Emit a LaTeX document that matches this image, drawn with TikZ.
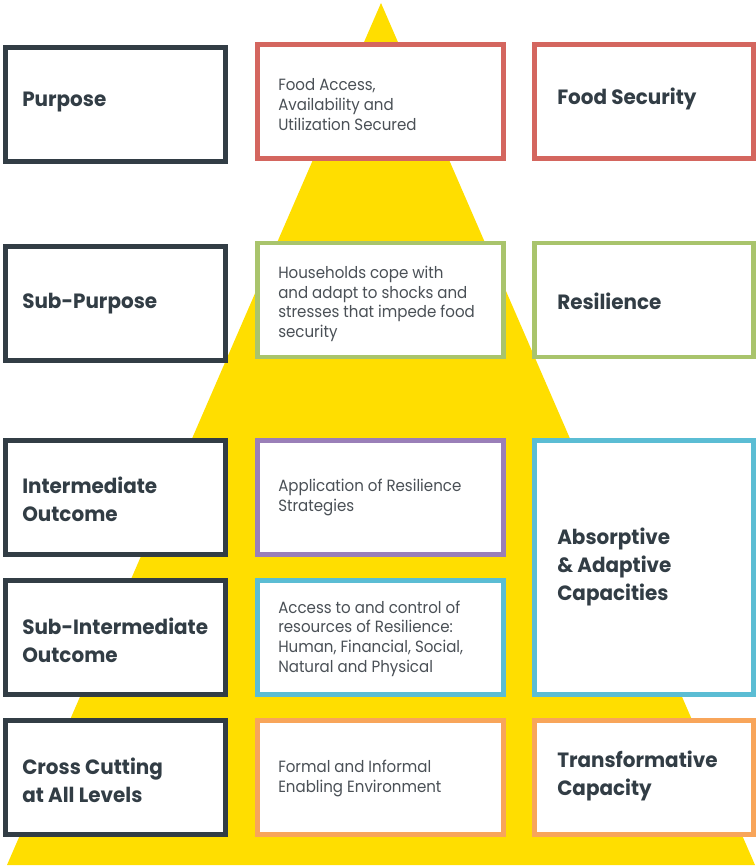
\documentclass[tikz,border=0pt]{standalone}
\usepackage{fontspec}
\newfontfamily\titlefont[FakeStretch=0.965]{Poppins}[BoldFont={* Bold}]
\newfontfamily\bodyfont[FakeStretch=0.925]{Poppins}
\definecolor{pyellow}{HTML}{FFDE00}
\definecolor{dark}{HTML}{323D45}
\definecolor{bodytext}{HTML}{4A5056}
\definecolor{cred}{HTML}{D4665F}
\definecolor{cgreen}{HTML}{A9C46C}
\definecolor{cpurple}{HTML}{9A7FB8}
\definecolor{cblue}{HTML}{5BBDD4}
\definecolor{corange}{HTML}{F8A55A}
\tikzset{
  box/.style={draw=#1, line width=3.4pt, fill=white, inner sep=0pt, outer sep=0pt},
  leftbox/.style={box=dark, minimum width=165.3pt, minimum height=85.8pt},
  midbox/.style={box=#1, minimum width=184.8pt, minimum height=85.8pt},
  rightbox/.style={box=#1, minimum width=164.6pt, minimum height=85.8pt},
  ttl/.style={anchor=west, inner sep=0pt, align=left, text=dark,
    font={\titlefont\bfseries\fontsize{15.5}{21}\selectfont}},
  bdy/.style={anchor=west, inner sep=0pt, align=left, text=bodytext,
    font={\bodyfont\fontsize{12.2}{14.8}\selectfont}},
}
\begin{document}
\begin{tikzpicture}[x=0.75pt, y=-0.75pt]
\useasboundingbox (0,0) rectangle (756,867);
\fill[pyellow] (381,3) -- (755,865) -- (7,865) -- cycle;

% left column
\node[leftbox] (l1) at (115.5,104.5) {};
\node[leftbox] (l2) at (115.5,303.5) {};
\node[leftbox] (l3) at (115.5,497.5) {};
\node[leftbox] (l4) at (115.5,637.5) {};
\node[leftbox] (l5) at (115.5,777.5) {};
% middle column
\node[midbox=cred] (m1) at (380.5,101.5) {};
\node[midbox=cgreen] (m2) at (380.5,300) {};
\node[midbox=cpurple] (m3) at (380.5,497.5) {};
\node[midbox=cblue] (m4) at (380.5,637.5) {};
\node[midbox=corange] (m5) at (380.5,777.5) {};
% right column
\node[rightbox=cred] (r1) at (644,101.5) {};
\node[rightbox=cgreen] (r2) at (644,300) {};
\node[box=cblue, minimum width=164.6pt, minimum height=190.8pt] (r3) at (644,567.5) {};
\node[rightbox=corange] (r5) at (644,777.5) {};

% texts
\node[ttl] (tl1) at (22,102) {Purpose};
\node[ttl] (tl2) at (22,304) {Sub-Purpose};
\node[ttl] (tl3) at (22,499.5) {Intermediate\\Outcome};
\node[ttl] (tl4) at (22,640) {Sub-Intermediate\\Outcome};
\node[ttl] (tl5) at (22,780) {Cross Cutting\\at All Levels};

\node[bdy] (tm1) at (278,104.5) {Food Access,\\Availability and\\Utilization Secured};
\node[bdy] (tm2) at (278,304) {Households cope with\\and adapt to shocks and\\stresses that impede food\\security};
\node[bdy] (tm3) at (278,497.5) {Application of Resilience\\Strategies};
\node[bdy] (tm4) at (278,638.5) {Access to and control of\\resources of Resilience:\\Human, Financial, Social,\\Natural and Physical};
\node[bdy] (tm5) at (278,778.5) {Formal and Informal\\Enabling Environment};

\node[ttl] (tr1) at (557,99) {Food Security};
\node[ttl] (tr2) at (557,301) {Resilience};
\node[ttl] (tr3) at (557,567) {Absorptive\\\& Adaptive\\Capacities};
\node[ttl] (tr5) at (557,776) {Transformative\\Capacity};
\end{tikzpicture}
\end{document}
